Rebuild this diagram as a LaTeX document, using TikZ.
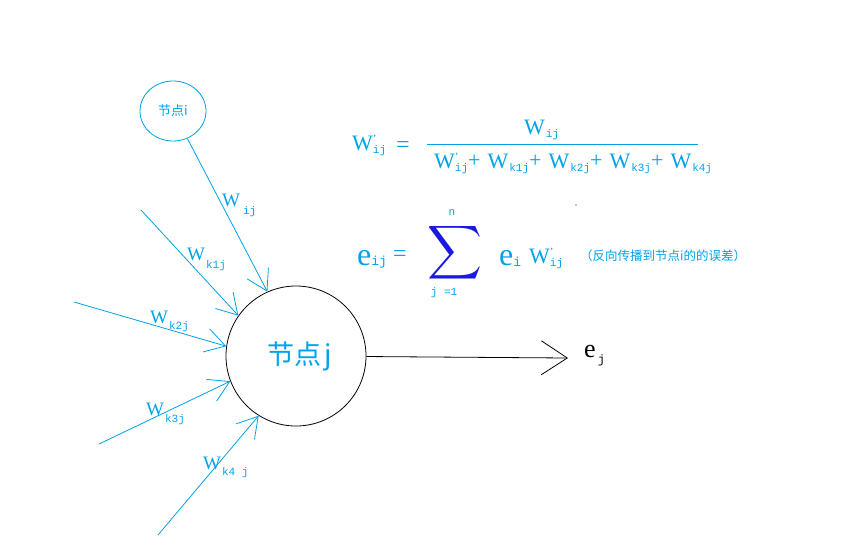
\documentclass[tikz,border=0pt]{standalone}
\usepackage{fontspec}
\setmainfont{Liberation Serif}
\newfontfamily\cjk{Noto Sans CJK SC}
\newfontfamily\subfont{Liberation Mono}
\usepackage{tikz}
\usetikzlibrary{arrows.meta,shapes.geometric}

\definecolor{paintblue}{RGB}{0,162,232}
\definecolor{sigmablue}{RGB}{25,25,225}

\newcommand{\wsub}[2][4pt]{W\hspace{1pt}\raisebox{-#1}{\fontsize{11}{11}\subfont #2}}
\newcommand{\wprime}[2][3pt]{W\rlap{\raisebox{8pt}{\fontsize{11}{11}\selectfont ’}}\raisebox{-#1}{\fontsize{11}{11}\subfont #2}}
\newcommand{\plusgap}{\raisebox{1pt}{+}\hspace{7pt}}

\tikzset{
  lbl/.style={text=paintblue, font=\fontsize{19}{19}\selectfont, inner sep=0pt, anchor=base west},
  big/.style={text=paintblue, font=\fontsize{22}{22}\selectfont, inner sep=0pt, anchor=base west},
  small/.style={text=paintblue, font=\fontsize{11}{11}\subfont, inner sep=0pt},
  inarrow/.style={paintblue, line width=0.8pt, -{Straight Barb[length=20pt,width=24pt]}},
  outarrow/.style={black, line width=0.8pt, -{Straight Barb[length=26pt,width=34pt]}},
}

\begin{document}
\begin{tikzpicture}[x=1pt,y=-1pt]
  \useasboundingbox (0,0) rectangle (842,558);

  \node[ellipse, draw=paintblue, line width=0.8pt, minimum width=66pt, minimum height=60pt,
        text=paintblue, font=\cjk\fontsize{13}{13}\selectfont] (ni) at (173,111) {节点i};
  \node[circle, draw, line width=0.8pt, minimum size=140pt, inner sep=0pt,
        text=paintblue, font=\cjk\fontsize{27}{27}\selectfont] (nj) at (296,356) {\hspace{8pt}节点\hspace{3pt}j};

  \coordinate (k1) at (141,210);
  \coordinate (k2) at (74,302);
  \coordinate (k3) at (99,444);
  \coordinate (k4) at (158,535);
  \coordinate (tip) at (568,358);

  \draw[inarrow] (ni) -- (nj.114);
  \draw[inarrow] (k1) -- (nj.145);
  \draw[inarrow] (k2) -- (nj.172);
  \draw[inarrow] (k3) -- (nj.201);
  \draw[inarrow] (k4) -- (nj.238);
  \draw[outarrow] (nj) -- (tip);

  \node[lbl] (wij) at (222,206) {W\hspace{3pt}\raisebox{-8pt}{\fontsize{11}{11}\subfont ij}};
  \node[lbl] (wk1) at (187,260) {\wsub[8pt]{k1j}};
  \node[lbl] (wk2) at (150,323) {\wsub[6pt]{k2j}};
  \node[lbl] (wk3) at (146,415) {\wsub[7pt]{k3j}};
  \node[lbl] (wk4) at (203,469) {\wsub[6pt]{k4 j}};
  \node[anchor=base west, inner sep=0pt, font=\fontsize{26}{26}\selectfont] (ej) at (584,357)
    {e\hspace{2pt}\raisebox{-6pt}{\fontsize{12}{12}\subfont j}};

  % W'ij = Wij / (...)
  \node[big] (wprime) at (352,150) {\wprime{ij}};
  \node[text=paintblue, font=\fontsize{24}{24}\selectfont, inner sep=0pt] (eqa) at (403,147) {=};
  \coordinate (bara) at (427,144);
  \coordinate (barb) at (698,144);
  \draw[paintblue, line width=0.8pt] (bara) -- (barb);
  \node[big] (num) at (524,134) {\wsub[3pt]{ij}};
  \node[big] (den) at (434,168)
    {\wprime{ij}\plusgap\wsub[3pt]{k1j}\plusgap\wsub[3pt]{k2j}\plusgap\wsub[3pt]{k3j}\plusgap\wsub[3pt]{k4j}};

  % eij = sum ei W'ij
  \node[text=paintblue, font=\fontsize{32}{32}\selectfont, inner sep=0pt, anchor=base west] (eij) at (357,265)
    {e\raisebox{0pt}{\fontsize{13}{13}\subfont ij}};
  \node[text=paintblue, font=\fontsize{24}{24}\selectfont, inner sep=0pt] (eqb) at (400,256) {=};
  \node[text=sigmablue, inner sep=0pt] (sig) at (455,253) {\resizebox*{55pt}{60pt}{$\displaystyle\sum$}};
  \node[small] (up) at (452,213) {n};
  \node[small] (low) at (444,293) {j =1};
  \node[text=paintblue, font=\fontsize{32}{32}\selectfont, inner sep=0pt, anchor=base west] (ei) at (499,265)
    {e\raisebox{-1pt}{\fontsize{13}{13}\subfont i}};
  \node[big] (wq) at (529,263) {\wprime{ij}};
  \node[text=paintblue, font=\cjk\fontsize{12.5}{12.5}\selectfont, inner sep=0pt, anchor=west] (note) at (580,256)
    {（反向传播到节点i的的误差）};
  \fill (576,205) circle (0.7pt);
\end{tikzpicture}
\end{document}
